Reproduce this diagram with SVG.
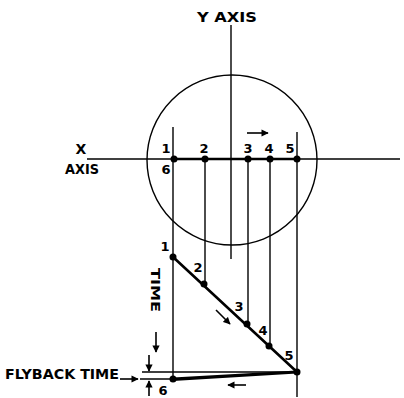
<svg xmlns="http://www.w3.org/2000/svg" width="404" height="398" viewBox="0 0 404 398">
<style>
.ln{stroke:#000;stroke-width:1.4;fill:none}
.thk{stroke:#000;stroke-width:2.6;fill:none;stroke-linecap:round}
.dot{fill:#000}
.t{font-family:"DejaVu Sans","Liberation Sans",sans-serif;font-weight:bold;fill:#000}
.lab{font-size:14px}
.num{font-size:13px;text-anchor:middle}
.arr{stroke:#000;stroke-width:1.6;fill:none;marker-end:url(#ah)}
</style>
<defs>
<marker id="ah" viewBox="0 0 10 10" refX="9" refY="5" markerWidth="5" markerHeight="4.5" orient="auto" markerUnits="strokeWidth">
<path d="M0,0 L10,5 L0,10 Z" fill="#000"/>
</marker>
</defs>
<rect width="404" height="398" fill="#fff"/>
<g id="screen">
<circle class="ln" cx="232" cy="160" r="85"/>
</g>
<g id="y-axis">
<line class="ln" x1="231" y1="25" x2="231" y2="259"/>
<text class="t lab" x="227" y="22" text-anchor="middle" textLength="60" lengthAdjust="spacingAndGlyphs">Y AXIS</text>
</g>
<g id="x-axis">
<line class="ln" x1="87" y1="159" x2="400" y2="159"/>
<line class="thk" x1="174" y1="159" x2="297" y2="159"/>
<text class="t lab" x="81" y="154" text-anchor="middle">X</text>
<text class="t lab" x="65" y="174" textLength="34" lengthAdjust="spacingAndGlyphs">AXIS</text>
</g>
<g id="connectors">
<line class="ln" x1="173" y1="127" x2="173" y2="379"/>
<line class="ln" x1="205" y1="159" x2="205" y2="284"/>
<line class="ln" x1="248" y1="159" x2="248" y2="324"/>
<line class="ln" x1="270" y1="159" x2="270" y2="346"/>
<line class="ln" x1="297" y1="132" x2="297" y2="397"/>
<line class="thk" x1="173" y1="257" x2="297" y2="372"/>
<line class="ln" x1="142" y1="372" x2="297" y2="372"/>
<line class="ln" x1="140" y1="379" x2="173" y2="379"/>
<path d="M173,377.5 L297,370.5 L297,373.5 L173,381 Z" fill="#000"/>
<line class="arr" x1="247" y1="133" x2="268" y2="133"/>
<line class="arr" x1="216" y1="310" x2="230" y2="324"/>
<line class="arr" x1="246" y1="385" x2="228" y2="385"/>
<line class="arr" x1="156" y1="332" x2="156" y2="352"/>
<line class="arr" x1="149" y1="355" x2="149" y2="371"/>
<line class="arr" x1="149" y1="396" x2="149" y2="381"/>
<line class="arr" x1="120" y1="379" x2="138" y2="379"/>
</g>
<g id="point-1">
<circle class="dot" cx="174" cy="159" r="3.5"/>
<text class="t num" x="166" y="153">1</text>
<text class="t num" x="166" y="174">6</text>
</g>
<g id="point-2">
<circle class="dot" cx="205" cy="159" r="3.5"/>
<text class="t num" x="204" y="153">2</text>
</g>
<g id="point-3">
<circle class="dot" cx="248" cy="159" r="3.5"/>
<text class="t num" x="248" y="153">3</text>
</g>
<g id="point-4">
<circle class="dot" cx="270" cy="159" r="3.5"/>
<text class="t num" x="269" y="153">4</text>
</g>
<g id="point-5">
<circle class="dot" cx="297" cy="159" r="3.5"/>
<text class="t num" x="290" y="153">5</text>
</g>
<g id="time-1">
<circle class="dot" cx="173" cy="257" r="3.5"/>
<text class="t num" x="165" y="251">1</text>
</g>
<g id="time-2">
<circle class="dot" cx="204" cy="284" r="3.5"/>
<text class="t num" x="198" y="272">2</text>
</g>
<g id="time-3">
<circle class="dot" cx="247" cy="324" r="3.5"/>
<text class="t num" x="239" y="311">3</text>
</g>
<g id="time-4">
<circle class="dot" cx="269" cy="346" r="3.5"/>
<text class="t num" x="263" y="335">4</text>
</g>
<g id="time-5">
<circle class="dot" cx="297" cy="372" r="3.5"/>
<text class="t num" x="289" y="360">5</text>
</g>
<g id="time-6">
<circle class="dot" cx="173" cy="379" r="3.5"/>
<text class="t num" x="163" y="395">6</text>
</g>
<g id="time-label">
<text class="t" font-size="13" transform="translate(151,290) rotate(90)" text-anchor="middle" textLength="44" lengthAdjust="spacingAndGlyphs">TIME</text>
</g>
<g id="flyback-label">
<text class="t lab" x="5" y="379" textLength="114" lengthAdjust="spacingAndGlyphs">FLYBACK TIME</text>
</g>
</svg>
